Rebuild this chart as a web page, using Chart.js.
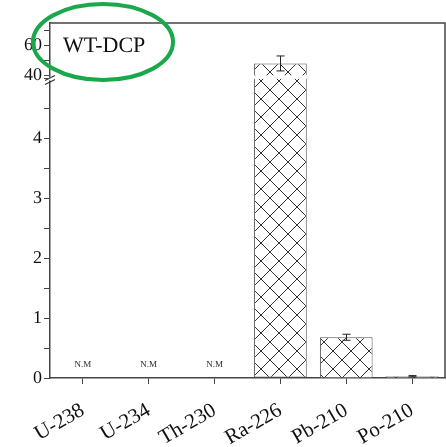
<!DOCTYPE html>
<html><head><meta charset="utf-8">
<script src="https://cdn.jsdelivr.net/npm/chart.js@4"></script>
<style>html,body{margin:0;padding:0;background:#fff}#wrap{width:446px;height:447px;position:relative}</style>
</head><body><div id="wrap"><canvas id="c"></canvas></div>
<script>
const categories = ['U-238','U-234','Th-230','Ra-226','Pb-210','Po-210'];
const values = [null, null, null, 48, 0.68, 0.03];
const errors = [null, null, null, 5, 0.05, 0.01];
const notes = ['N.M','N.M','N.M','','',''];
const lowerTicks = [0,0.5,1,1.5,2,2.5,3,3.5,4,4.5,5];
const lowerLabels = [0,1,2,3,4];
const upperTicks = [40,50,60,70];
const upperLabels = [40,60];
const LOWER_MIN = 0, LOWER_MAX = 5, UPPER_MIN = 38, UPPER_MAX = 75, BREAK_START = 40;
const NOTE_VALUE = 0.22;
const title = 'WT-DCP';

const SERIF = '"Liberation Serif", "Times New Roman", serif';
const AXIS = '#444';

function makePattern() {
  const s = 18, cv = document.createElement('canvas');
  cv.width = s; cv.height = s;
  const g = cv.getContext('2d');
  g.fillStyle = '#fff'; g.fillRect(0,0,s,s);
  g.strokeStyle = '#333'; g.lineWidth = 1;
  g.beginPath();
  g.moveTo(0,0); g.lineTo(s,s);
  g.moveTo(s,0); g.lineTo(0,s);
  g.stroke();
  return g.createPattern(cv, 'repeat');
}
const hatch = makePattern();

const lowerData = values.map(v => v == null ? null : Math.min(v, LOWER_MAX));
const upperData = values.map(v => (v != null && v > LOWER_MAX) ? [BREAK_START, v] : null);

const extras = {
  id: 'extras',
  beforeDraw(chart) {
    try { chart.ctx.textRendering = 'geometricPrecision'; } catch (e) {}
  },
  afterDatasetsDraw(chart) {
    const ctx = chart.ctx, xs = chart.scales.x, yl = chart.scales.y, yu = chart.scales.y2;
    ctx.save();
    ctx.strokeStyle = '#222'; ctx.lineWidth = 1;
    values.forEach((v, i) => {
      if (v == null || errors[i] == null) return;
      const sc = v > LOWER_MAX ? yu : yl;
      const x = Math.round(xs.getPixelForValue(i)) + 0.5;
      const lo = Math.max(v - errors[i], sc.min);
      const yT = sc.getPixelForValue(v + errors[i]);
      const yB = sc.getPixelForValue(lo);
      ctx.beginPath();
      ctx.moveTo(x, yT); ctx.lineTo(x, yB);
      ctx.moveTo(x - 4, yT); ctx.lineTo(x + 4, yT);
      ctx.moveTo(x - 4, yB); ctx.lineTo(x + 4, yB);
      ctx.stroke();
    });
    ctx.fillStyle = '#333';
    ctx.font = '9px ' + SERIF;
    ctx.textAlign = 'center'; ctx.textBaseline = 'middle';
    notes.forEach((t, i) => {
      if (!t) return;
      ctx.fillText(t, xs.getPixelForValue(i), yl.getPixelForValue(NOTE_VALUE));
    });
    ctx.restore();
  },
  afterDraw(chart) {
    const ctx = chart.ctx, a = chart.chartArea, yu = chart.scales.y2;
    ctx.save();
    ctx.strokeStyle = AXIS; ctx.lineWidth = 1.5;
    ctx.beginPath();
    ctx.moveTo(a.left, a.top); ctx.lineTo(a.right, a.top); ctx.lineTo(a.right, a.bottom);
    ctx.stroke();
    // axis break marks
    const yb = yu.bottom;
    ctx.fillStyle = '#fff';
    ctx.fillRect(a.left - 2, yb - 1, 4, 3);
    ctx.strokeStyle = '#333'; ctx.lineWidth = 1.2;
    ctx.beginPath();
    ctx.moveTo(a.left - 5, yb + 2); ctx.lineTo(a.left + 5, yb - 3);
    ctx.moveTo(a.left - 5, yb + 6); ctx.lineTo(a.left + 5, yb + 1);
    ctx.stroke();
    // title with ellipse
    ctx.fillStyle = '#111';
    ctx.font = '22px ' + SERIF;
    ctx.textAlign = 'left'; ctx.textBaseline = 'alphabetic';
    ctx.fillText(title, 63, 52);
    ctx.strokeStyle = '#1aa84a'; ctx.lineWidth = 4;
    ctx.beginPath();
    ctx.ellipse(103, 42, 70, 38, 0, 0, Math.PI * 2);
    ctx.stroke();
    ctx.restore();
  }
};

new Chart(document.getElementById('c'), {
  type: 'bar',
  data: {
    labels: categories,
    datasets: [
      {
        data: lowerData, yAxisID: 'y', backgroundColor: hatch, borderColor: '#555', borderWidth: 1,
        borderSkipped: (c) => (values[c.dataIndex] != null && values[c.dataIndex] > LOWER_MAX) ? 'top' : 'bottom',
        barPercentage: 0.8, categoryPercentage: 1, grouped: false
      },
      {
        data: upperData, yAxisID: 'y2', backgroundColor: hatch, borderColor: '#555', borderWidth: 1,
        borderSkipped: 'bottom', barPercentage: 0.8, categoryPercentage: 1, grouped: false
      }
    ]
  },
  options: {
    responsive: true, maintainAspectRatio: false, animation: false,
    devicePixelRatio: 1,
    layout: { padding: { top: 23, right: 1, left: 0, bottom: 0 } },
    plugins: { legend: { display: false }, tooltip: { enabled: false } },
    scales: {
      x: {
        grid: { display: true, offset: false, drawOnChartArea: false, drawTicks: true, tickLength: 6, color: AXIS, lineWidth: 1 },
        border: { display: true, color: AXIS, width: 1.5 },
        ticks: { color: '#111', font: { family: SERIF, size: 21 }, minRotation: 30, maxRotation: 30, autoSkip: false, padding: 14 },
        afterFit: (s) => { s.height = 69; }
      },
      y: {
        stack: 'brk', stackWeight: 300, min: LOWER_MIN, max: LOWER_MAX,
        afterBuildTicks: (s) => { s.ticks = lowerTicks.map(v => ({ value: v })); },
        grid: { display: true, drawOnChartArea: false, drawTicks: true, tickLength: 6, color: AXIS },
        border: { display: true, color: AXIS, width: 1.5 },
        ticks: { color: '#111', font: { family: SERIF, size: 18 }, padding: 2, autoSkip: false,
                 callback: (v) => lowerLabels.includes(v) ? String(v) : '' },
        afterFit: (s) => { s.width = 50; }
      },
      y2: {
        stack: 'brk', stackWeight: 55.5, min: UPPER_MIN, max: UPPER_MAX, offset: false,
        afterBuildTicks: (s) => { s.ticks = upperTicks.map(v => ({ value: v })); },
        grid: { display: true, drawOnChartArea: false, drawTicks: true, tickLength: 6, color: AXIS },
        border: { display: true, color: AXIS, width: 1.5 },
        ticks: { color: '#111', font: { family: SERIF, size: 18 }, padding: 2, autoSkip: false,
                 callback: (v) => upperLabels.includes(v) ? String(v) : '' },
        afterFit: (s) => { s.width = 50; }
      }
    }
  },
  plugins: [extras]
});
</script>
</body></html>
